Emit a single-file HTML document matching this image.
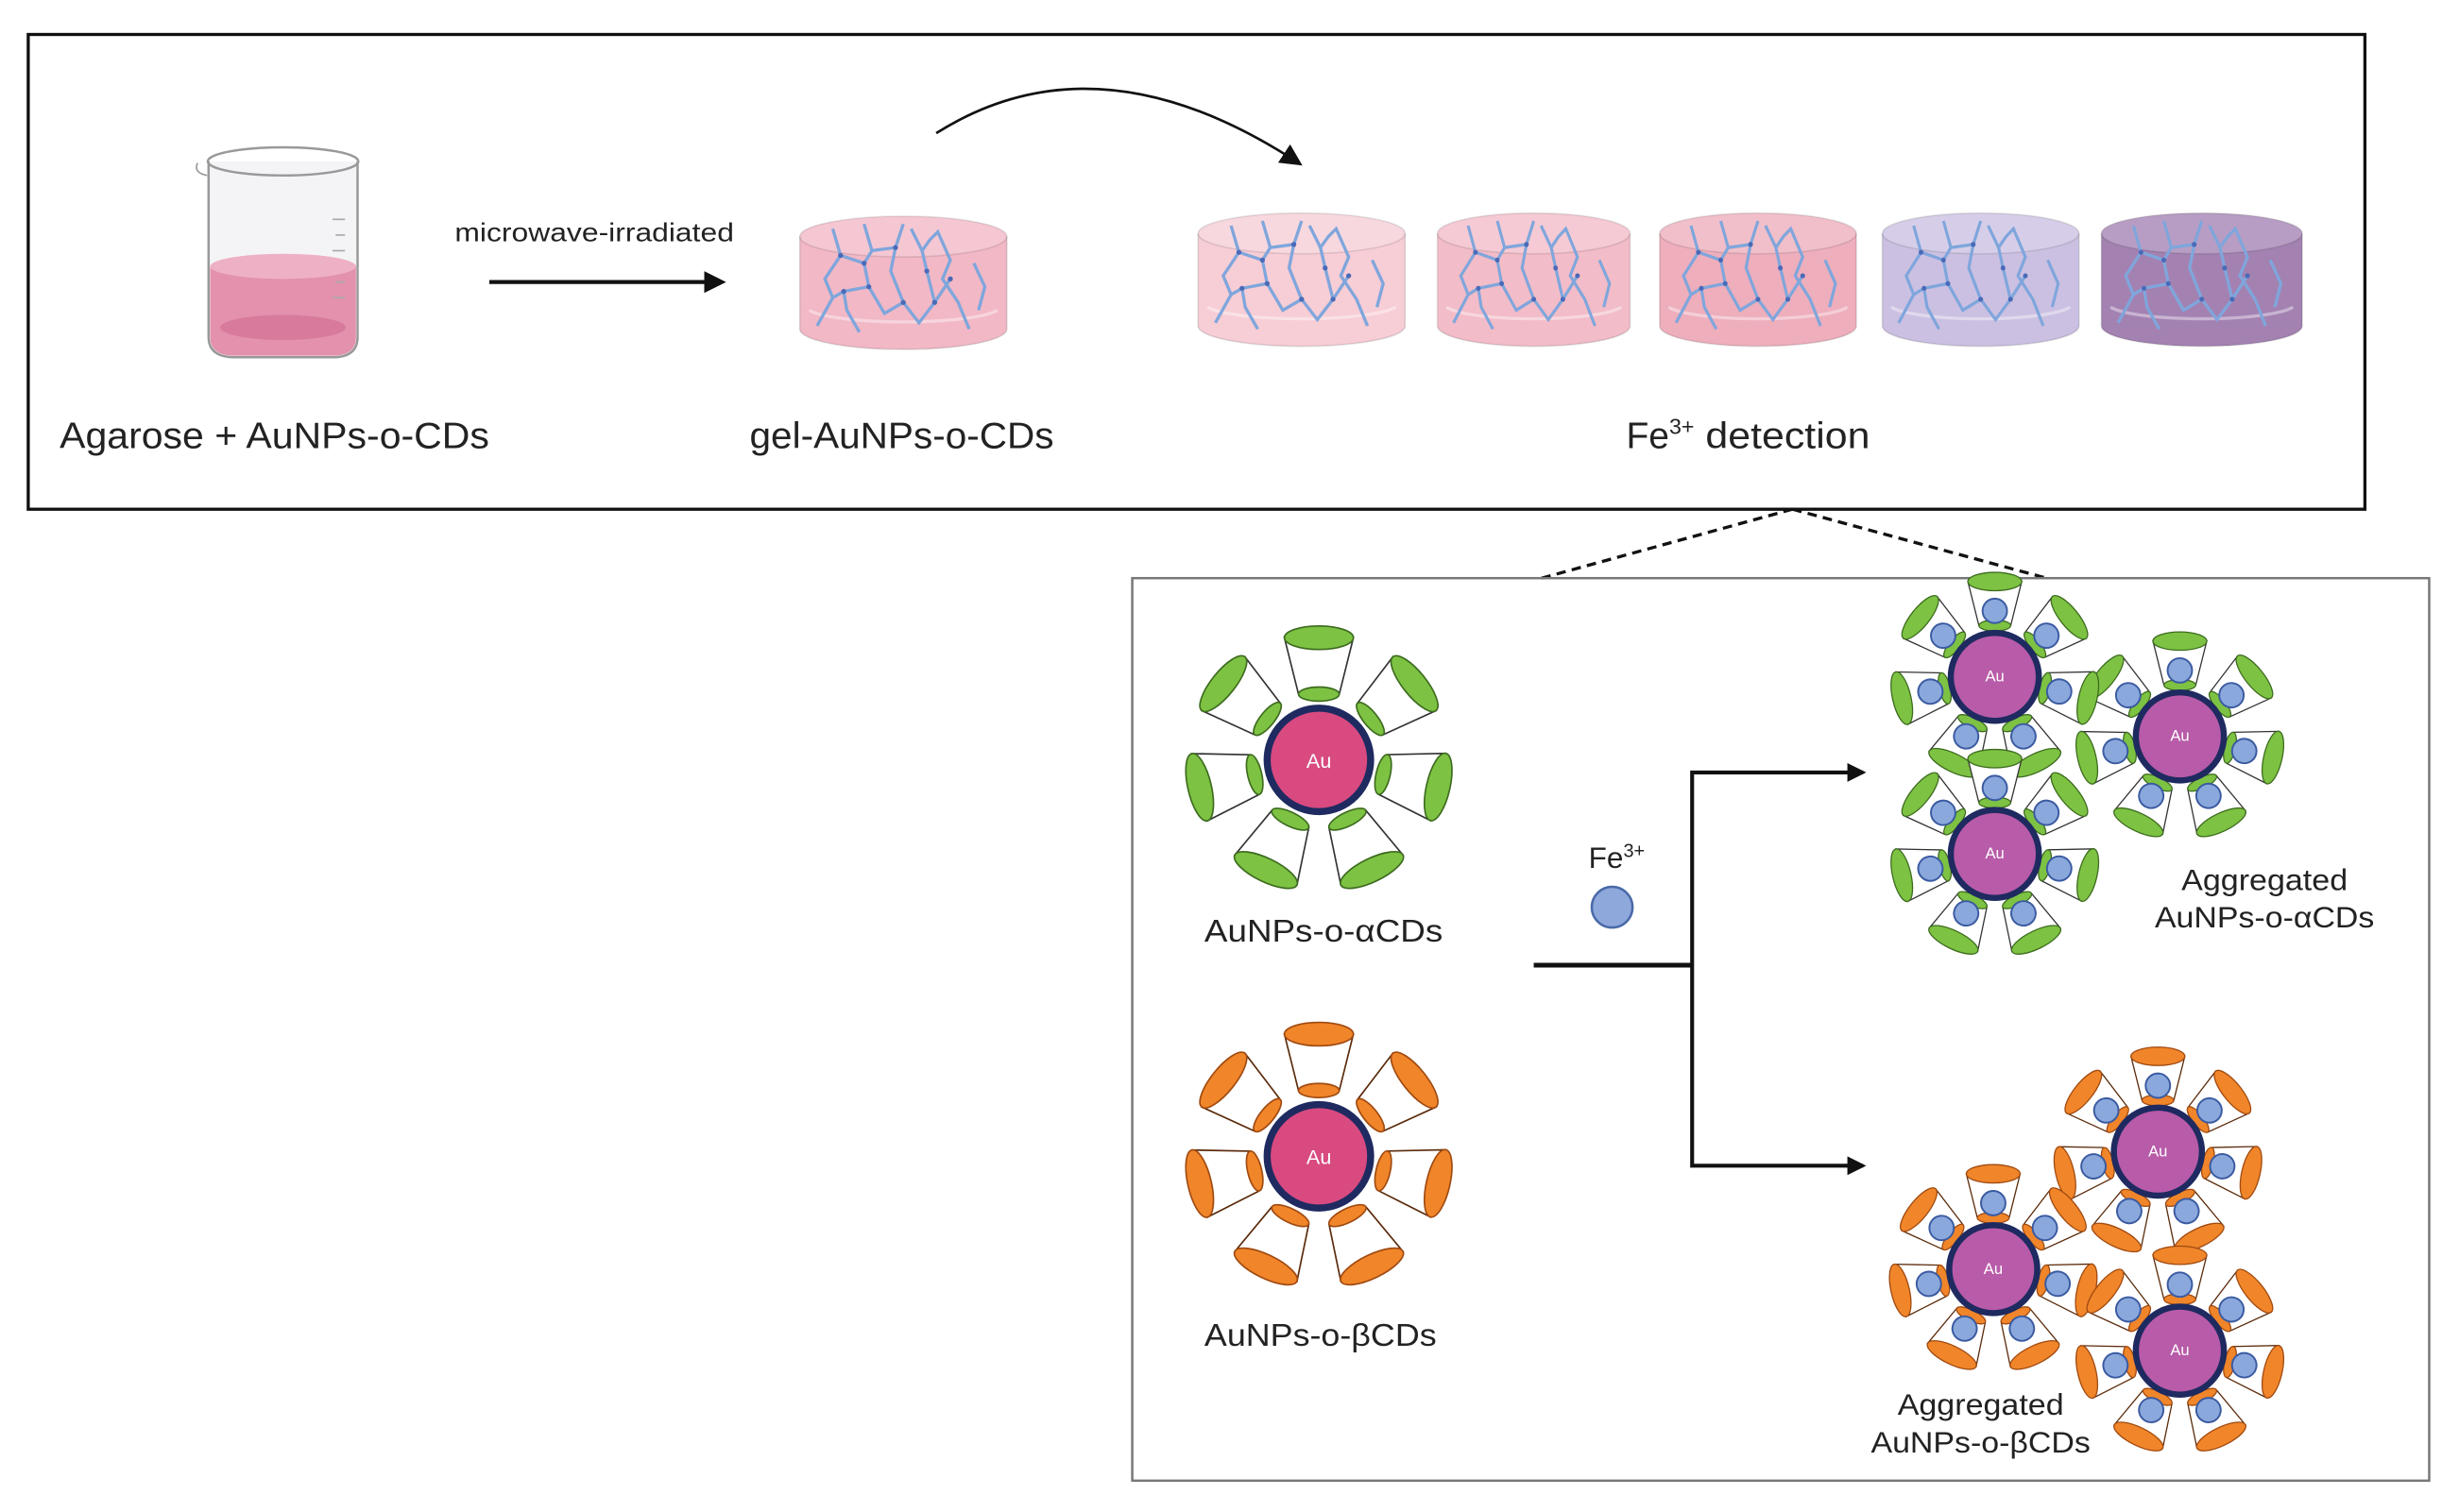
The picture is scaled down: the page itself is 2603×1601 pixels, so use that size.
<!DOCTYPE html>
<html><head><meta charset="utf-8"><style>
html,body{margin:0;padding:0;background:#fff}
svg{display:block}
text{font-family:"Liberation Sans",sans-serif;fill:#222}
</style></head><body>
<svg width="2603" height="1601" viewBox="0 0 1568 965" preserveAspectRatio="none" xmlns="http://www.w3.org/2000/svg">
<defs>
<marker id="ah2" markerWidth="14" markerHeight="14" refX="11" refY="7" orient="auto" markerUnits="userSpaceOnUse"><path d="M0,0 L14,7 L0,14 Z" fill="#111"/></marker>
<g id="gel">
 <ellipse cx="0" cy="72" rx="66" ry="13" fill="currentColor"/>
 <rect x="-66" y="13" width="132" height="59" fill="currentColor"/>
 <ellipse cx="0" cy="13" rx="66" ry="13" fill="currentColor"/>
 <ellipse cx="0" cy="13" rx="66" ry="13" fill="#fff" opacity="0.22"/>
 <ellipse cx="0" cy="13" rx="66" ry="13" fill="none" stroke="#000" stroke-opacity="0.1"/>
 <path d="M-66,13 L-66,72 A66,13 0 0 0 66,72 L66,13" fill="none" stroke="#000" stroke-opacity="0.12"/>
 <path d="M-60,60 A62,10 0 0 0 60,60" fill="none" stroke="#fff" stroke-opacity="0.4" stroke-width="2"/>
 <g fill="none" stroke="#7fa6dc" stroke-width="2">
  <path d="M-45,8 L-40,25 L-50,40 L-45,52 L-55,70"/>
  <path d="M-25,5 L-20,22 L-5,20 L0,5"/>
  <path d="M5,8 L12,22 L17,15 L22,10 L30,28 L25,40 L35,55 L42,72"/>
  <path d="M-40,25 L-25,30 L-20,22 M-25,30 L-22,45 L-38,48 L-45,52 M-22,45 L-12,62 L0,55 L10,68 L20,55 L30,40"/>
  <path d="M-5,20 L-8,35 L-2,50 L0,55 M12,22 L15,35 L20,55"/>
  <path d="M-38,48 L-36,60 L-28,74 M45,30 L52,45 L48,60"/>
 </g>
 <g fill="#4a6ab8">
  <circle cx="-40" cy="25" r="1.6"/><circle cx="-25" cy="30" r="1.6"/><circle cx="-22" cy="45" r="1.6"/><circle cx="0" cy="55" r="1.6"/><circle cx="20" cy="55" r="1.6"/><circle cx="15" cy="35" r="1.6"/><circle cx="-5" cy="20" r="1.6"/><circle cx="30" cy="40" r="1.6"/><circle cx="-38" cy="48" r="1.6"/>
 </g>
</g>
<g id="cg">
 <path d="M-13,-42 L-22,-78 L22,-78 L13,-42 Z" fill="#fff" stroke="#333" stroke-width="1"/>
 <ellipse cx="0" cy="-42" rx="13" ry="4.5" fill="#7dc242" stroke="#3d6b1f" stroke-width="1"/>
 <ellipse cx="0" cy="-78" rx="22" ry="7.5" fill="#7dc242" stroke="#3d6b1f" stroke-width="1"/>
</g>
<g id="co">
 <path d="M-13,-42 L-22,-78 L22,-78 L13,-42 Z" fill="#fff" stroke="#5a2a0a" stroke-width="1"/>
 <ellipse cx="0" cy="-42" rx="13" ry="4.5" fill="#f0852a" stroke="#a04a10" stroke-width="1"/>
 <ellipse cx="0" cy="-78" rx="22" ry="7.5" fill="#f0852a" stroke="#a04a10" stroke-width="1"/>
</g>
<g id="cgb"><use href="#cg"/><circle cx="0" cy="-54" r="10" fill="#8aa8dc" stroke="#3a5aa0" stroke-width="1.5"/></g>
<g id="cob"><use href="#co"/><circle cx="0" cy="-54" r="10" fill="#8aa8dc" stroke="#3a5aa0" stroke-width="1.5"/></g>
<g id="ag">
 <use href="#cgb" transform="rotate(0)"/><use href="#cgb" transform="rotate(51.4)"/><use href="#cgb" transform="rotate(102.8)"/><use href="#cgb" transform="rotate(154.3)"/><use href="#cgb" transform="rotate(205.7)"/><use href="#cgb" transform="rotate(257.1)"/><use href="#cgb" transform="rotate(308.6)"/>
 <circle r="36" fill="#b85ba8" stroke="#1e2a60" stroke-width="5"/>
</g>
<g id="ao">
 <use href="#cob" transform="rotate(0)"/><use href="#cob" transform="rotate(51.4)"/><use href="#cob" transform="rotate(102.8)"/><use href="#cob" transform="rotate(154.3)"/><use href="#cob" transform="rotate(205.7)"/><use href="#cob" transform="rotate(257.1)"/><use href="#cob" transform="rotate(308.6)"/>
 <circle r="36" fill="#b85ba8" stroke="#1e2a60" stroke-width="5"/>
</g>
</defs>

<rect x="18" y="22" width="1490" height="303" fill="none" stroke="#111" stroke-width="2"/>

<!-- beaker -->
<path d="M133,103 L133,215 Q133,228 150,228 L212,228 Q228,228 228,215 L228,103" fill="#f4f4f6" stroke="#999" stroke-width="1.5"/>
<path d="M134,170 L134,215 Q134,227 150,227 L212,227 Q227,227 227,215 L227,170 Z" fill="#e391ad"/>
<ellipse cx="180.5" cy="170" rx="46.5" ry="8" fill="#eeb0c4"/>
<ellipse cx="180.5" cy="209" rx="40" ry="8" fill="#d77a9c"/>
<ellipse cx="180.5" cy="103" rx="48" ry="9" fill="none" stroke="#999" stroke-width="1.5"/>
<path d="M126,104 Q123,110 132,112" fill="none" stroke="#999"/>
<g stroke="#aaa" stroke-width="1"><line x1="212" y1="140" x2="220" y2="140"/><line x1="214" y1="150" x2="220" y2="150"/><line x1="212" y1="160" x2="220" y2="160"/><line x1="214" y1="180" x2="220" y2="180"/><line x1="212" y1="190" x2="220" y2="190"/></g>

<text x="290" y="154" font-size="16.5" textLength="178" lengthAdjust="spacingAndGlyphs">microwave-irradiated</text>
<line x1="312" y1="180" x2="460" y2="180" stroke="#111" stroke-width="2.5" marker-end="url(#ah2)"/>

<use href="#gel" transform="translate(576,138)" color="#f2b8c6"/>

<path d="M597,85 Q700,20 828,104" fill="none" stroke="#111" stroke-width="1.6" marker-end="url(#ah2)"/>

<use href="#gel" transform="translate(830,136)" color="#f7cdd6"/>
<use href="#gel" transform="translate(978,136) scale(0.93,1)" color="#f2bcc8"/>
<use href="#gel" transform="translate(1121,136) scale(0.95,1)" color="#eeaebc"/>
<use href="#gel" transform="translate(1263,136) scale(0.95,1)" color="#cbc0e2"/>
<use href="#gel" transform="translate(1404,136) scale(0.97,1)" color="#a382b2"/>

<text x="38" y="286" font-size="23.5" textLength="274" lengthAdjust="spacingAndGlyphs">Agarose + AuNPs-o-CDs</text>
<text x="478" y="286" font-size="23.5" textLength="194" lengthAdjust="spacingAndGlyphs">gel-AuNPs-o-CDs</text>
<text x="1037" y="286" font-size="23.5">Fe<tspan font-size="14" dy="-9">3+</tspan><tspan dy="9" textLength="112" lengthAdjust="spacingAndGlyphs"> detection</tspan></text>

<line x1="1143" y1="325" x2="983" y2="369" stroke="#111" stroke-width="2" stroke-dasharray="6,4"/>
<line x1="1143" y1="325" x2="1305" y2="369" stroke="#111" stroke-width="2" stroke-dasharray="6,4"/>

<rect x="722" y="369" width="827" height="576" fill="none" stroke="#777" stroke-width="1.5"/>

<g transform="translate(841,485)">
 <use href="#cg" transform="rotate(0)"/><use href="#cg" transform="rotate(51.4)"/><use href="#cg" transform="rotate(102.8)"/><use href="#cg" transform="rotate(154.3)"/><use href="#cg" transform="rotate(205.7)"/><use href="#cg" transform="rotate(257.1)"/><use href="#cg" transform="rotate(308.6)"/>
 <circle r="33" fill="#d84a80" stroke="#1e2a60" stroke-width="4.5"/>
 <text x="0" y="5" font-size="13" text-anchor="middle" style="fill:#fff">Au</text>
</g>
<text x="844" y="601" font-size="20" text-anchor="middle" textLength="152" lengthAdjust="spacingAndGlyphs">AuNPs-o-αCDs</text>

<g transform="translate(841,738)">
 <use href="#co" transform="rotate(0)"/><use href="#co" transform="rotate(51.4)"/><use href="#co" transform="rotate(102.8)"/><use href="#co" transform="rotate(154.3)"/><use href="#co" transform="rotate(205.7)"/><use href="#co" transform="rotate(257.1)"/><use href="#co" transform="rotate(308.6)"/>
 <circle r="33" fill="#d84a80" stroke="#1e2a60" stroke-width="4.5"/>
 <text x="0" y="5" font-size="13" text-anchor="middle" style="fill:#fff">Au</text>
</g>
<text x="842" y="859" font-size="20" text-anchor="middle" textLength="148" lengthAdjust="spacingAndGlyphs">AuNPs-o-βCDs</text>

<text x="1013" y="554" font-size="19">Fe<tspan font-size="12" dy="-7">3+</tspan></text>
<circle cx="1028" cy="579" r="13" fill="#8fa8dc" stroke="#4a6aa8" stroke-width="1.5"/>
<line x1="978" y1="616" x2="1078" y2="616" stroke="#111" stroke-width="3"/>
<polyline points="1188,493 1079,493 1079,744 1188,744" fill="none" stroke="#111" stroke-width="2.5"/>
<path d="M1178,487 L1190,493 L1178,499 Z" fill="#111"/>
<path d="M1178,738 L1190,744 L1178,750 Z" fill="#111"/>

<g transform="translate(1390,470) scale(0.78)"><use href="#ag"/></g>
<g transform="translate(1272,432) scale(0.78)"><use href="#ag"/></g>
<g transform="translate(1272,545) scale(0.78)"><use href="#ag"/></g>
<text x="1272" y="435" font-size="10" text-anchor="middle" style="fill:#fff">Au</text>
<text x="1390" y="473" font-size="10" text-anchor="middle" style="fill:#fff">Au</text>
<text x="1272" y="548" font-size="10" text-anchor="middle" style="fill:#fff">Au</text>
<text x="1444" y="568" font-size="19" text-anchor="middle" textLength="106" lengthAdjust="spacingAndGlyphs">Aggregated</text>
<text x="1444" y="592" font-size="19" text-anchor="middle" textLength="140" lengthAdjust="spacingAndGlyphs">AuNPs-o-αCDs</text>

<g transform="translate(1376,735) scale(0.78)"><use href="#ao"/></g>
<g transform="translate(1271,810) scale(0.78)"><use href="#ao"/></g>
<g transform="translate(1390,862) scale(0.78)"><use href="#ao"/></g>
<text x="1376" y="738" font-size="10" text-anchor="middle" style="fill:#fff">Au</text>
<text x="1271" y="813" font-size="10" text-anchor="middle" style="fill:#fff">Au</text>
<text x="1390" y="865" font-size="10" text-anchor="middle" style="fill:#fff">Au</text>
<text x="1263" y="903" font-size="19" text-anchor="middle" textLength="106" lengthAdjust="spacingAndGlyphs">Aggregated</text>
<text x="1263" y="927" font-size="19" text-anchor="middle" textLength="140" lengthAdjust="spacingAndGlyphs">AuNPs-o-βCDs</text>
</svg>
</body></html>
